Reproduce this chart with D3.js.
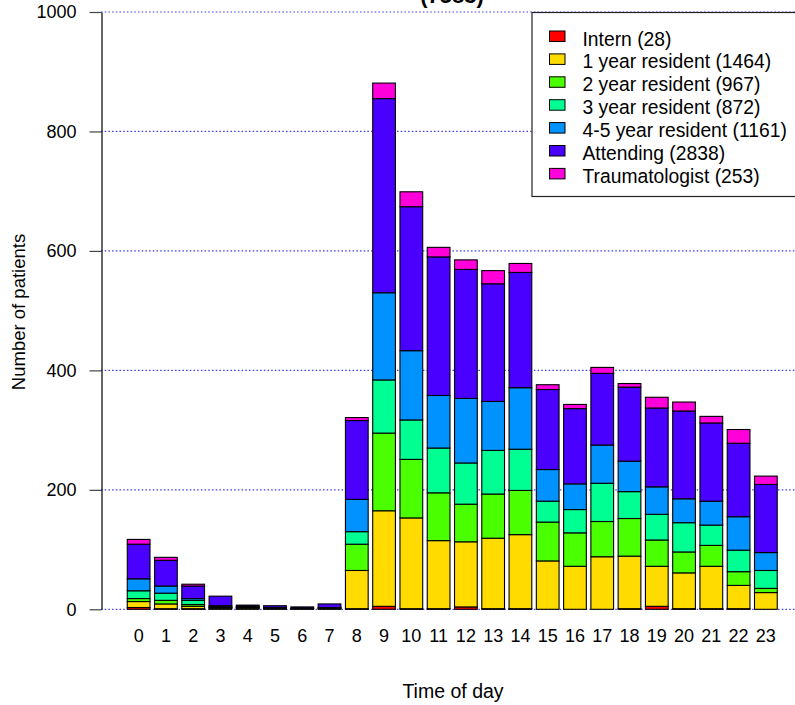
<!DOCTYPE html>
<html>
<head>
<meta charset="utf-8">
<script src="https://cdn.jsdelivr.net/npm/d3@7"></script>
<style>
  body { margin: 0; background: #fff; }
  text { font-family: "Liberation Sans", Arial, sans-serif; }
</style>
</head>
<body>
<div id="chart"></div>
<script>
// Data
var hours = d3.range(0, 24).map(String);
var groups = ["Intern", "1 year resident", "2 year resident", "3 year resident", "4-5 year resident", "Attending", "Traumatologist"];
var groupTotals = [28, 1464, 967, 872, 1161, 2838, 253];
var groupColors = ["#FF0000", "#FFDB00", "#49FF00", "#00FF92", "#0092FF", "#4900FF", "#FF00DB"];

var intern    = [3, 1, 1, 0, 0, 0, 0, 0, 1, 5, 1, 1, 4, 1, 1, 0, 0, 0, 1, 5, 1, 1, 1, 0];
var year1     = [10, 8, 4, 2, 2, 1, 1, 1, 64, 160, 152, 114, 109, 118, 124, 81, 72, 88, 88, 67, 60, 71, 39, 28];
var year2     = [5, 6, 3, 1, 1, 0, 0, 1, 44, 130, 98, 80, 63, 74, 74, 65, 56, 59, 63, 44, 35, 35, 23, 7];
var year3     = [13, 12, 7, 1, 1, 1, 0, 0, 21, 89, 66, 75, 69, 73, 69, 35, 39, 64, 45, 43, 49, 34, 36, 30];
var year45    = [20, 12, 3, 2, 1, 1, 1, 1, 54, 146, 116, 88, 108, 82, 103, 53, 43, 64, 51, 46, 40, 40, 56, 30];
var attending = [58, 43, 21, 16, 2, 3, 2, 6, 132, 325, 241, 232, 216, 197, 193, 134, 126, 120, 124, 132, 147, 131, 123, 114];
var trauma    = [8, 5, 3, 0, 0, 0, 0, 0, 5, 26, 25, 16, 16, 22, 15, 8, 7, 10, 6, 18, 15, 11, 23, 14];

var yTicks = [0, 200, 400, 600, 800, 1000];
var titleText = "(7583)";

var seriesValues = [intern, year1, year2, year3, year45, attending, trauma];
var table = hours.map(function(h, i) {
  var row = { hour: h };
  groups.forEach(function(g, k) { row[g] = seriesValues[k][i]; });
  return row;
});

var svgWidth = 795;
var svgHeight = 705;
var fontFam = "Liberation Sans, Arial, sans-serif";

var svg = d3.select("#chart")
  .append("svg")
  .attr("width", svgWidth)
  .attr("height", svgHeight);

// Scales
var xScale = d3.scaleBand()
  .domain(hours)
  .range([125, 779.5])
  .paddingInner(0.1667)
  .paddingOuter(0.0833);

var yScale = d3.scaleLinear()
  .domain([0, 1000])
  .range([609.3, 12]);

// Grid lines (behind the bars)
svg.append("g")
  .selectAll("line")
  .data(yTicks)
  .enter()
  .append("line")
  .attr("x1", 101)
  .attr("x2", svgWidth)
  .attr("y1", function(d) { return yScale(d); })
  .attr("y2", function(d) { return yScale(d); })
  .attr("stroke", "#3a3aff")
  .attr("stroke-width", 1.2)
  .attr("stroke-dasharray", "1.5,2.2");

// Stacked bars
var stacked = d3.stack().keys(groups)(table);

svg.append("g")
  .selectAll("g")
  .data(stacked)
  .enter()
  .append("g")
  .attr("fill", function(d, k) { return groupColors[k]; })
  .selectAll("rect")
  .data(function(d) { return d; })
  .enter()
  .append("rect")
  .attr("x", function(d) { return xScale(d.data.hour); })
  .attr("y", function(d) { return yScale(d[1]); })
  .attr("width", xScale.bandwidth())
  .attr("height", function(d) { return yScale(d[0]) - yScale(d[1]); })
  .attr("stroke", "#000")
  .attr("stroke-width", 1.1);

// Y axis
var leftAxis = d3.axisLeft(yScale)
  .tickValues(yTicks)
  .tickFormat(d3.format("d"))
  .tickSize(12)
  .tickSizeOuter(0)
  .tickPadding(13);

var yAxisG = svg.append("g")
  .attr("transform", "translate(101.5,0)")
  .call(leftAxis);
yAxisG.select(".domain").attr("stroke", "#000").attr("stroke-width", 1.2);
yAxisG.selectAll(".tick line").attr("stroke", "#444").attr("stroke-width", 1.2);
yAxisG.selectAll(".tick text")
  .attr("font-size", 18)
  .attr("fill", "#000")
  .style("font-family", fontFam);

// X labels
var bottomAxis = d3.axisBottom(xScale).tickSize(0).tickPadding(20);
var xAxisG = svg.append("g")
  .attr("transform", "translate(0,609.3)")
  .call(bottomAxis);
xAxisG.select(".domain").remove();
xAxisG.selectAll(".tick text")
  .attr("font-size", 18)
  .attr("fill", "#000")
  .style("font-family", fontFam);

// Axis titles
svg.append("text")
  .attr("x", 453)
  .attr("y", 698)
  .attr("text-anchor", "middle")
  .attr("font-size", 19.5)
  .text("Time of day");

svg.append("text")
  .attr("transform", "translate(25,312) rotate(-90)")
  .attr("text-anchor", "middle")
  .attr("font-size", 18.5)
  .text("Number of patients");

svg.append("text")
  .attr("x", 452)
  .attr("y", 3)
  .attr("text-anchor", "middle")
  .attr("font-size", 22)
  .attr("font-weight", "bold")
  .text(titleText);

// Legend
var legend = svg.append("g");
legend.append("rect")
  .attr("x", 532)
  .attr("y", 12.5)
  .attr("width", 300)
  .attr("height", 184)
  .attr("fill", "#fff")
  .attr("stroke", "#222")
  .attr("stroke-width", 1.2);

var rows = legend.selectAll("g.row")
  .data(groups)
  .enter()
  .append("g")
  .attr("class", "row")
  .attr("transform", function(d, k) { return "translate(0," + (39 + k * 22.9) + ")"; });

rows.append("rect")
  .attr("x", 549.5)
  .attr("y", -8)
  .attr("width", 15.5)
  .attr("height", 10.5)
  .attr("fill", function(d, k) { return groupColors[k]; })
  .attr("stroke", "#000")
  .attr("stroke-width", 1);

rows.append("text")
  .attr("x", 582.5)
  .attr("y", 6.5)
  .attr("font-size", 19.3)
  .text(function(d, k) { return d + " (" + groupTotals[k] + ")"; });
</script>
</body>
</html>
